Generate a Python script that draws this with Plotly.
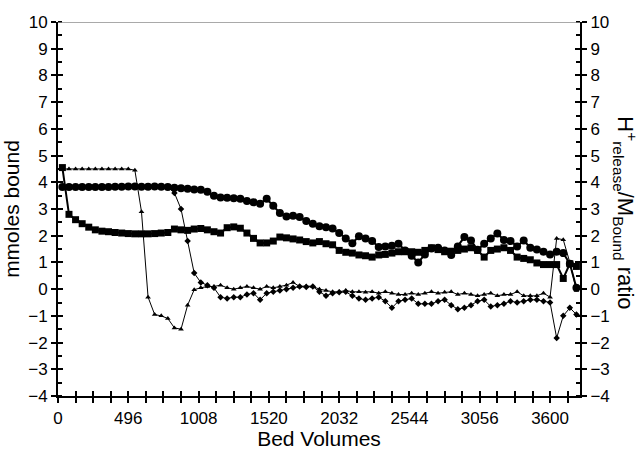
import plotly.graph_objects as go

# Sampling positions (bed volume axis units)
bed_volumes = [32 + 48 * i for i in range(79)]

circles = [3.82, 3.82, 3.82, 3.82, 3.82, 3.82, 3.82, 3.82, 3.83, 3.83,
           3.84, 3.84, 3.83, 3.83, 3.84, 3.83, 3.82, 3.80, 3.78, 3.76,
           3.73, 3.72, 3.65, 3.50, 3.43, 3.42, 3.40, 3.38, 3.30, 3.25,
           3.20, 3.38, 3.12, 2.85, 2.72, 2.75, 2.70, 2.55, 2.45, 2.35,
           2.32, 2.27, 2.10, 1.90, 1.72, 1.98, 1.90, 1.80, 1.58, 1.60,
           1.62, 1.70, 1.45, 1.25, 1.00, 1.30, 1.52, 1.55, 1.45, 1.28,
           1.60, 1.95, 1.82, 1.47, 1.70, 1.90, 2.08, 1.84, 1.80, 1.60,
           1.82, 1.55, 1.48, 1.40, 1.30, 1.40, 1.35, 0.95, 0.05]

squares = [4.55, 2.80, 2.60, 2.45, 2.32, 2.22, 2.17, 2.15, 2.12, 2.10,
           2.08, 2.07, 2.07, 2.07, 2.08, 2.10, 2.12, 2.25, 2.22, 2.20,
           2.25, 2.27, 2.22, 2.15, 2.10, 2.30, 2.33, 2.28, 2.10, 1.90,
           1.73, 1.73, 1.80, 1.95, 1.92, 1.88, 1.84, 1.78, 1.73, 1.78,
           1.70, 1.66, 1.45, 1.38, 1.35, 1.28, 1.25, 1.20, 1.28, 1.30,
           1.35, 1.40, 1.40, 1.40, 1.38, 1.45, 1.55, 1.48, 1.40, 1.42,
           1.45, 1.50, 1.55, 1.45, 1.20, 1.45, 1.50, 1.55, 1.45, 1.20,
           1.15, 1.10, 0.98, 0.92, 0.92, 0.92, 0.40, 0.95, 0.85]

triangles = [4.50, 4.50, 4.50, 4.50, 4.50, 4.50, 4.50, 4.50, 4.50, 4.50,
             4.50, 4.45, 2.90, -0.30, -0.95, -1.00, -1.10, -1.45, -1.50, -0.60,
             -0.02, 0.05, 0.10, 0.10, 0.15, 0.05, 0.00, 0.05, 0.10, 0.05,
             0.00, 0.10, 0.05, 0.10, 0.15, 0.25, 0.10, 0.12, 0.10, 0.00,
             -0.05, -0.10, -0.10, -0.05, -0.10, -0.10, -0.12, -0.10, -0.15, -0.10,
             -0.15, -0.20, -0.20, -0.15, -0.20, -0.15, -0.10, -0.15, -0.12, -0.10,
             -0.20, -0.15, -0.20, -0.25, -0.20, -0.15, -0.25, -0.20, -0.20, -0.10,
             -0.25, -0.25, -0.25, -0.15, -0.30, 1.90, 1.85, 1.00, -0.05]

diamonds = [3.82, 3.82, 3.82, 3.82, 3.82, 3.82, 3.82, 3.82, 3.82, 3.82,
            3.82, 3.82, 3.82, 3.82, 3.82, 3.82, 3.82, 3.60, 3.00, 1.80,
            0.60, 0.25, 0.15, 0.05, -0.30, -0.35, -0.30, -0.30, -0.20, -0.15,
            -0.40, -0.15, -0.10, -0.05, 0.00, 0.05, 0.10, 0.08, 0.10, -0.10,
            -0.25, -0.15, -0.12, -0.10, -0.25, -0.35, -0.40, -0.35, -0.30, -0.45,
            -0.70, -0.45, -0.40, -0.35, -0.55, -0.55, -0.55, -0.45, -0.40, -0.60,
            -0.75, -0.70, -0.60, -0.45, -0.40, -0.65, -0.60, -0.55, -0.45, -0.50,
            -0.45, -0.40, -0.40, -0.45, -0.50, -1.83, -1.00, -0.70, -0.95]

x_tick_labels = ["0", "496", "1008", "1520", "2032", "2544", "3056", "3600"]
x_label_step = 512
x_minor_step = 128
x_max = 3802
y_range = [-4, 10]

FONT = "Liberation Sans, Arial, Helvetica, sans-serif"

label_vals = [i * x_label_step for i in range(len(x_tick_labels))]

fig = go.Figure()

fig.add_trace(go.Scatter(x=bed_volumes, y=triangles, mode="lines+markers",
                         line=dict(color="black", width=1),
                         marker=dict(symbol="triangle-up", size=5, color="black")))
fig.add_trace(go.Scatter(x=bed_volumes, y=diamonds, mode="lines+markers",
                         line=dict(color="black", width=1),
                         marker=dict(symbol="diamond", size=5, color="black")))
fig.add_trace(go.Scatter(x=bed_volumes, y=squares, mode="lines+markers",
                         line=dict(color="black", width=2),
                         marker=dict(symbol="square", size=7, color="black")))
fig.add_trace(go.Scatter(x=bed_volumes, y=circles, mode="lines+markers",
                         line=dict(color="black", width=2),
                         marker=dict(symbol="circle", size=8, color="black")))

# invisible traces so the overlay axes are drawn
for xa, ya in (("x2", "y"), ("x", "y2"), ("x", "y3"), ("x", "y4")):
    fig.add_trace(go.Scatter(x=[None], y=[None], xaxis=xa, yaxis=ya, mode="markers",
                             showlegend=False, hoverinfo="skip"))

axis_common = dict(showgrid=False, zeroline=False, automargin=False)
tick_style = dict(tickwidth=1.5, tickcolor="black")

fig.update_layout(
    width=640, height=450,
    margin=dict(l=58, r=60, t=22, b=54),
    paper_bgcolor="white", plot_bgcolor="white",
    showlegend=False,
    font=dict(family=FONT, color="black", size=17),
    xaxis=dict(range=[0, x_max], tickmode="array", tickvals=label_vals, ticktext=x_tick_labels,
               ticks="outside", ticklen=5, ticklabelstandoff=1, **tick_style,
               minor=dict(tickmode="linear", tick0=0, dtick=x_minor_step, ticks="outside",
                          ticklen=5, **tick_style),
               showline=True, linewidth=2, linecolor="black",
               tickfont=dict(size=17, family=FONT),
               title=dict(text="Bed Volumes", font=dict(size=21, family=FONT), standoff=8),
               **axis_common),
    xaxis2=dict(range=[0, x_max], overlaying="x", anchor="y", side="bottom",
                tickmode="linear", tick0=0, dtick=x_minor_step, ticks="inside", ticklen=5,
                **tick_style, showticklabels=False, showline=False, **axis_common),
    yaxis=dict(range=y_range, tickmode="linear", tick0=0, dtick=1,
               ticks="outside", ticklen=5, **tick_style,
               showline=True, linewidth=2, linecolor="black",
               minor=dict(dtick=0.5, tick0=0, ticks="inside", ticklen=4, **tick_style),
               tickfont=dict(size=17, family=FONT),
               title=dict(text="mmoles bound", font=dict(size=21, family=FONT), standoff=6),
               **axis_common),
    yaxis2=dict(range=y_range, overlaying="y", anchor="x", side="right",
                tickmode="linear", tick0=0, dtick=1,
                ticks="outside", ticklen=5, **tick_style,
                showline=True, linewidth=2, linecolor="black",
                minor=dict(dtick=0.5, tick0=0, ticks="inside", ticklen=4, **tick_style),
                tickfont=dict(size=17, family=FONT),
                **axis_common),
    yaxis3=dict(range=y_range, overlaying="y", anchor="x", side="left",
                tickmode="linear", tick0=0, dtick=1, ticks="inside", ticklen=5,
                **tick_style, showticklabels=False, showline=False, **axis_common),
    yaxis4=dict(range=y_range, overlaying="y", anchor="x", side="right",
                tickmode="linear", tick0=0, dtick=1, ticks="inside", ticklen=5,
                **tick_style, showticklabels=False, showline=False, **axis_common),
)

fig.add_shape(type="line", xref="paper", x0=0, x1=1, yref="y", y0=y_range[1], y1=y_range[1],
              line=dict(color="#8c8c8c", width=1.5))

fig.add_annotation(xref="paper", yref="paper", x=1.087, y=0.49,
                   text="H<sup>+</sup><sub>release</sub>/M<sub>Bound</sub> ratio",
                   textangle=90, showarrow=False, xanchor="center", yanchor="middle",
                   font=dict(size=22, family=FONT, color="black"))

fig.write_html("out.html")
